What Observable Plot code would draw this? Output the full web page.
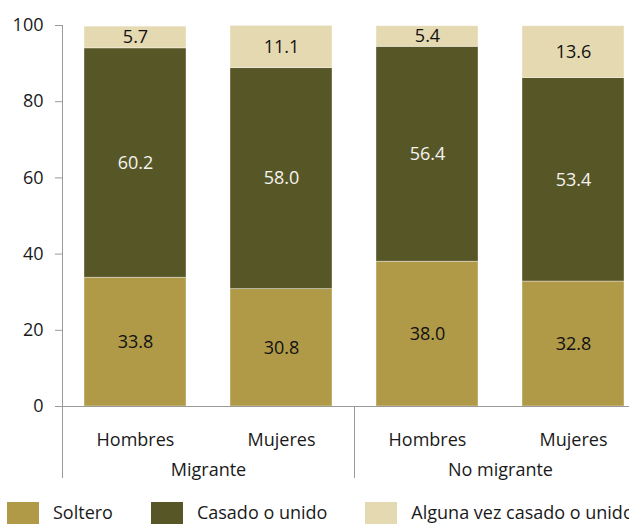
<!DOCTYPE html>
<html>
<head>
<meta charset="utf-8">
<script src="https://cdn.jsdelivr.net/npm/d3@7"></script>
<script src="https://cdn.jsdelivr.net/npm/@observablehq/plot@0.6"></script>
<style>
  html, body { margin: 0; padding: 0; background: #fff; overflow: hidden; }
  body { width: 629px; height: 524px; font-family: "Open Sans", sans-serif; color: #1a1a1a; }
  #chart { width: 629px; overflow: hidden; }
  #chart svg { display: block; max-width: none !important; }
  .legend { display: flex; align-items: flex-start; margin-top: 4px; padding-left: 7px; gap: 38px; font-size: 18px; line-height: 18px; }
  .legend .item { display: flex; align-items: flex-start; white-space: nowrap; }
  .legend .swatch { width: 32px; height: 32px; margin-right: 14px; flex: none; }
  .legend .name { padding-top: 1px; }
</style>
</head>
<body>
<div id="chart"></div>
<div class="legend" id="legend"></div>
<script>
// Estado conyugal por condición migratoria y sexo (porcentajes)
const groups = ["Migrante", "No migrante"];
const sexes = ["Hombres", "Mujeres"];
const statuses = ["Soltero", "Casado o unido", "Alguna vez casado o unido"];
const colors = ["#b09a48", "#575626", "#e5d9b2"];

// one value per bar: Migrante-Hombres, Migrante-Mujeres, No migrante-Hombres, No migrante-Mujeres
const soltero = [33.8, 30.8, 38.0, 32.8];
const casado = [60.2, 58.0, 56.4, 53.4];
const alguna = [5.7, 11.1, 5.4, 13.6];
const yTicks = [0, 20, 40, 60, 80, 100];

const series = [soltero, casado, alguna];
const rows = [];
series.forEach((values, s) => {
  values.forEach((v, i) => {
    rows.push({
      group: groups[Math.floor(i / 2)],
      sex: sexes[i % 2],
      status: statuses[s],
      value: v
    });
  });
});

const label = d => d.value.toFixed(1);
const stackOpts = { fx: "group", x: "sex", y: "value", z: "status", order: statuses };

const plot = Plot.plot({
  width: 646,
  height: 498,
  marginLeft: 62,
  marginRight: 0,
  marginTop: 25,
  marginBottom: 92,
  style: { fontFamily: '"Open Sans", sans-serif', fontSize: "18px", color: "#1a1a1a", background: "#fff", overflow: "visible" },
  fx: { domain: groups, padding: 0 },
  x: { domain: sexes, paddingInner: 0.3, paddingOuter: 0.15 },
  y: { domain: [0, 100] },
  color: { domain: statuses, range: colors },
  marks: [
    Plot.barY(rows, { ...stackOpts, fill: "status", stroke: "#ffffff", strokeOpacity: 0.5, strokeWidth: 0.75 }),
    Plot.text(rows, Plot.stackY({ ...stackOpts, text: d => d.status === statuses[1] ? null : label(d), fill: "#111", fontSize: 18 })),
    Plot.text(rows, Plot.stackY({ ...stackOpts, text: d => d.status === statuses[1] ? label(d) : null, fill: "#f4f4f0", fontSize: 18 })),
    Plot.ruleY([0], { stroke: "#9a9a9a" }),
    Plot.axisY({ ticks: yTicks, tickSize: 7, tickPadding: 12, label: null, stroke: "#9a9a9a" }),
    Plot.axisX({ tickSize: 0, tickPadding: 27, label: null }),
    Plot.axisFx({ anchor: "bottom", tickSize: 0, tickPadding: 57, label: null })
  ]
});

plot.style.maxWidth = "none";
plot.style.height = "498px";
document.getElementById("chart").appendChild(plot);

// y axis line and group separators that run down through the category labels
const fx = plot.scale("fx");
const y = plot.scale("y");
const edges = fx.domain.map(d => fx.apply(d));
edges.push(edges[edges.length - 1] + fx.bandwidth);
const y0 = y.apply(0);
const yTop = y.apply(100);
d3.select(plot).append("g")
  .attr("stroke", "#9a9a9a")
  .selectAll("line")
  .data(edges)
  .join("line")
  .attr("x1", d => Math.round(d) + 0.5)
  .attr("x2", d => Math.round(d) + 0.5)
  .attr("y1", (d, i) => i === 0 ? yTop : y0)
  .attr("y2", y0 + 72);

// legend
const legend = d3.select("#legend");
statuses.forEach((s, i) => {
  const item = legend.append("div").attr("class", "item");
  item.append("div").attr("class", "swatch").style("background", colors[i]);
  item.append("div").attr("class", "name").text(s);
});
</script>
</body>
</html>
